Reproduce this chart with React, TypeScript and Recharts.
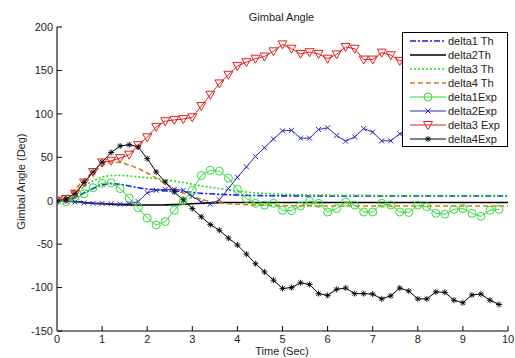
import React from 'react';
import { LineChart, Line, XAxis, YAxis } from 'recharts';

const time = [0, 0.2, 0.4, 0.6, 0.8, 1, 1.2, 1.4, 1.6, 1.8, 2, 2.2, 2.4, 2.6, 2.8, 3, 3.2, 3.4, 3.6, 3.8, 4, 4.2, 4.4, 4.6, 4.8, 5, 5.2, 5.4, 5.6, 5.8, 6, 6.2, 6.4, 6.6, 6.8, 7, 7.2, 7.4, 7.6, 7.8, 8, 8.2, 8.4, 8.6, 8.8, 9, 9.2, 9.4, 9.6, 9.8, 10];

const delta1Th = [0, 1, 4, 9, 14, 18, 19.5, 19, 17, 15, 13.5, 12.5, 11.5, 11, 10.5, 9.5, 8.5, 8, 7.5, 7, 6.5, 6.2, 6, 5.8, 5.7, 5.6, 5.6, 5.5, 5.5, 5.5, 5.5, 5.5, 5.5, 5.5, 5.5, 5.5, 5.5, 5.5, 5.5, 5.5, 5.5, 5.5, 5.5, 5.5, 5.5, 5.5, 5.5, 5.5, 5.5, 5.5, 5.5];
const delta2Th = [0, -0.3, -1, -2, -3, -3.5, -4, -4.5, -4.8, -5, -5, -5, -4.8, -4.5, -4, -3.5, -3, -2.5, -2.2, -2, -2, -2, -2, -2, -2, -2, -2, -2, -2, -2, -2, -2, -2, -2, -2, -2, -2, -2, -2, -2, -2, -2, -2, -2, -2, -2, -2, -2, -2, -2, -2];
const delta3Th = [0, 2, 8, 16, 23, 27, 29, 29, 28.5, 27.5, 26.5, 25.5, 24, 22.5, 21, 19, 17, 15.5, 14, 12.5, 11, 10, 9, 8.5, 8, 7.5, 7, 6.8, 6.6, 6.5, 6.4, 6.3, 6.2, 6.2, 6.1, 6.1, 6, 6, 6, 6, 6, 6, 6, 6, 6, 6, 6, 6, 6, 6, 6];
const delta4Th = [0, 5, 13, 24, 33, 40, 44.5, 44, 41, 37, 32, 26, 20, 14, 9, 5, 1.5, -1, -2.5, -3.5, -4, -4.5, -5, -5.3, -5.5, -5.7, -5.8, -5.9, -6, -6, -6, -6, -6, -6, -6, -6, -6, -6, -6, -6, -6, -6, -6, -6, -6, -6, -6, -6, -6, -6, -6];

const delta1Exp = [0, -1, 2, 8, 15, 20, 20.5, 14, 3, -8, -20, -28, -24, -11, 0, 12, 29, 35, 34, 26, 13, 2.5, -3, -5, -3, -11, -11.5, -6, -0.5, -3, -13, -9, -1.5, -5, -13, -13, -3, -5, -13, -13.5, -5, -7, -14.5, -15.5, -10, -9, -14.5, -18, -11, -10, null];
const delta2Exp = [0, -0.5, -1.5, -2.5, -3, -3, -3.5, -4, -3.5, -1, 9, 12, 13, 13, 12, 5, -1.5, -4, 1, 14, 27, 39, 51, 61, 71, 80.5, 81, 72, 72, 82, 84, 75, 68.5, 73.5, 83, 79, 69, 69, 77, 79, 74, 70, 76, 80, 75, 70, 74, 78, 73, 71, null];
const delta3Exp = [0, 2, 8, 21, 33, 44, 46, 49, 53, 64, 73, 85, 91.5, 93, 94, 96, 109, 122, 135, 145, 155, 159.5, 163.5, 166, 172, 180, 175, 169, 171, 169, 163.5, 168.5, 177, 175, 162.5, 162.5, 170.5, 167.5, 161, 164, 169, 172, 166, 160, 165, 170, 167, 161, 164, 168, null];
const delta4Exp = [0, 2, 8, 21, 33, 44.5, 55.5, 63, 64.5, 62, 48.5, 33, 21.5, 10, 1, -9, -18.5, -27.5, -34, -43, -51, -61.5, -72.5, -82, -91.5, -101, -100, -94.5, -96.5, -107, -109, -102, -100.5, -107, -107, -107.5, -113, -109.5, -100.5, -104, -113, -113, -105, -105.5, -114.5, -117.5, -108.5, -107.5, -114.5, -119.5, null];

const xTicks = [0, 1, 2, 3, 4, 5, 6, 7, 8, 9, 10];
const yTicks = [-150, -100, -50, 0, 50, 100, 150, 200];

const rows = time.map((t, i) => ({
  t,
  d1t: delta1Th[i],
  d2t: delta2Th[i],
  d3t: delta3Th[i],
  d4t: delta4Th[i],
  d1e: delta1Exp[i],
  d2e: delta2Exp[i],
  d3e: delta3Exp[i],
  d4e: delta4Exp[i],
}));

const C = {
  d1t: '#1a1aee',
  d2t: '#000000',
  d3t: '#22dd22',
  d4t: '#d08018',
  d1e: '#33dd33',
  d2e: '#2a2ab8',
  d3e: '#e02020',
  d4e: '#000000',
};

type MarkerKind = 'circle' | 'x' | 'tri' | 'star';

function Marker({ kind, cx, cy, color }: { kind: MarkerKind; cx: number; cy: number; color: string }) {
  if (kind === 'circle') return <circle cx={cx} cy={cy} r={4} fill="none" stroke={color} strokeWidth={1} />;
  if (kind === 'x')
    return (
      <g stroke={color} strokeWidth={1}>
        <line x1={cx - 2.5} y1={cy - 2.5} x2={cx + 2.5} y2={cy + 2.5} />
        <line x1={cx - 2.5} y1={cy + 2.5} x2={cx + 2.5} y2={cy - 2.5} />
      </g>
    );
  if (kind === 'tri')
    return (
      <polygon
        points={`${cx - 4.5},${cy - 3.5} ${cx + 4.5},${cy - 3.5} ${cx},${cy + 4.5}`}
        fill="none"
        stroke={color}
        strokeWidth={1}
      />
    );
  return (
    <g stroke={color} strokeWidth={0.9}>
      <line x1={cx - 3} y1={cy} x2={cx + 3} y2={cy} />
      <line x1={cx} y1={cy - 3} x2={cx} y2={cy + 3} />
      <line x1={cx - 2.2} y1={cy - 2.2} x2={cx + 2.2} y2={cy + 2.2} />
      <line x1={cx - 2.2} y1={cy + 2.2} x2={cx + 2.2} y2={cy - 2.2} />
    </g>
  );
}

const makeDot = (kind: MarkerKind, color: string) => (p: any) => {
  const key = `m-${kind}-${p.index}`;
  if (p.cx == null || p.cy == null || p.value == null) return <g key={key} />;
  return (
    <g key={key}>
      <Marker kind={kind} cx={p.cx} cy={p.cy} color={color} />
    </g>
  );
};

const legendItems: { label: string; color: string; dash?: string; width: number; marker?: MarkerKind }[] = [
  { label: 'delta1 Th', color: C.d1t, dash: '6 2 2 2', width: 1.6 },
  { label: 'delta2Th', color: C.d2t, width: 1.6 },
  { label: 'delta3 Th', color: C.d3t, dash: '2 2', width: 1.6 },
  { label: 'delta4 Th', color: C.d4t, dash: '5 3', width: 1.6 },
  { label: 'delta1Exp', color: C.d1e, width: 1, marker: 'circle' },
  { label: 'delta2Exp', color: C.d2e, width: 1, marker: 'x' },
  { label: 'delta3 Exp', color: C.d3e, width: 1, marker: 'tri' },
  { label: 'delta4Exp', color: C.d4e, width: 1, marker: 'star' },
];

const font = '"Liberation Sans", Arial, sans-serif';

export default function App() {
  return (
    <div style={{ position: 'absolute', left: 0, top: 0, width: 515, height: 358, background: '#fff', fontFamily: font }}>
      <LineChart
        width={515}
        height={358}
        data={rows}
        margin={{ top: 27, right: 7, left: 0, bottom: 0 }}
        style={{ fontFamily: font }}
      >
        <XAxis
          dataKey="t"
          type="number"
          domain={[0, 10]}
          ticks={xTicks}
          height={27}
          tickSize={-5}
          tickMargin={9}
          allowDataOverflow
          axisLine={{ stroke: '#000', strokeWidth: 1 }}
          tickLine={{ stroke: '#000' }}
          tick={{ fontSize: 11, fill: '#222' }}
        />
        <XAxis
          xAxisId="top"
          orientation="top"
          dataKey="t"
          type="number"
          domain={[0, 10]}
          ticks={xTicks}
          height={0}
          tickSize={-5}
          allowDataOverflow
          axisLine={{ stroke: '#000', strokeWidth: 1 }}
          tickLine={{ stroke: '#000' }}
          tick={false}
        />
        <YAxis
          type="number"
          domain={[-150, 200]}
          ticks={yTicks}
          width={57}
          tickSize={-5}
          tickMargin={9}
          allowDataOverflow
          axisLine={{ stroke: '#777', strokeWidth: 2 }}
          tickLine={{ stroke: '#000' }}
          tick={{ fontSize: 11, fill: '#222' }}
        />
        <YAxis
          yAxisId="right"
          orientation="right"
          type="number"
          domain={[-150, 200]}
          ticks={yTicks}
          width={0}
          tickSize={-5}
          allowDataOverflow
          axisLine={{ stroke: '#555', strokeWidth: 1.5 }}
          tickLine={{ stroke: '#000' }}
          tick={false}
        />
        <Line dataKey="d1t" type="monotone" stroke={C.d1t} strokeWidth={1.6} strokeDasharray="6 2 2 2" dot={false} isAnimationActive={false} />
        <Line dataKey="d2t" type="monotone" stroke={C.d2t} strokeWidth={1.6} dot={false} isAnimationActive={false} />
        <Line dataKey="d3t" type="monotone" stroke={C.d3t} strokeWidth={1.6} strokeDasharray="2 2" dot={false} isAnimationActive={false} />
        <Line dataKey="d4t" type="monotone" stroke={C.d4t} strokeWidth={1.6} strokeDasharray="5 3" dot={false} isAnimationActive={false} />
        <Line dataKey="d1e" type="linear" stroke={C.d1e} strokeWidth={1} dot={makeDot('circle', C.d1e)} activeDot={false} isAnimationActive={false} />
        <Line dataKey="d2e" type="linear" stroke={C.d2e} strokeWidth={1} dot={makeDot('x', C.d2e)} activeDot={false} isAnimationActive={false} />
        <Line dataKey="d3e" type="linear" stroke={C.d3e} strokeWidth={1} dot={makeDot('tri', C.d3e)} activeDot={false} isAnimationActive={false} />
        <Line dataKey="d4e" type="linear" stroke={C.d4e} strokeWidth={1} dot={makeDot('star', C.d4e)} activeDot={false} isAnimationActive={false} />
      </LineChart>

      <div style={{ position: 'absolute', left: 0, width: 563, top: 11, textAlign: 'center', fontSize: 11, color: '#222', lineHeight: '13px' }}>
        Gimbal Angle
      </div>
      <div style={{ position: 'absolute', left: 0, width: 564, top: 345, textAlign: 'center', fontSize: 11, color: '#222', lineHeight: '13px' }}>
        Time (Sec)
      </div>
      <div
        style={{
          position: 'absolute',
          left: 21,
          top: 181,
          width: 200,
          marginLeft: -100,
          marginTop: -6.5,
          textAlign: 'center',
          fontSize: 11,
          color: '#222',
          lineHeight: '13px',
          transform: 'rotate(-90deg)',
        }}
      >
        Gimbal Angle (Deg)
      </div>

      <div
        style={{
          position: 'absolute',
          left: 402,
          top: 32,
          width: 104,
          height: 113,
          border: '1px solid #000',
          background: '#fff',
        }}
      >
        {legendItems.map((it, i) => (
          <div key={it.label} style={{ position: 'absolute', left: 0, top: 1 + i * 14, height: 14, width: 104 }}>
            <svg width={38} height={14} style={{ position: 'absolute', left: 6, top: 0 }}>
              <line x1={1} y1={7} x2={37} y2={7} stroke={it.color} strokeWidth={it.width} strokeDasharray={it.dash} />
              {it.marker ? <Marker kind={it.marker} cx={19} cy={7} color={it.color} /> : null}
            </svg>
            <span style={{ position: 'absolute', left: 45, top: 0, fontSize: 11, lineHeight: '14px', color: '#222', whiteSpace: 'nowrap' }}>
              {it.label}
            </span>
          </div>
        ))}
      </div>
    </div>
  );
}
